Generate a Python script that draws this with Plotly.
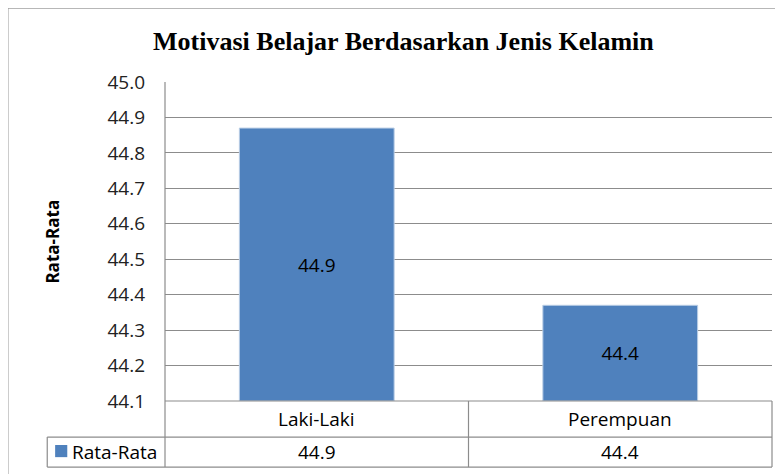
import plotly.graph_objects as go

# data
categories = ["Laki-Laki", "Perempuan"]
values = [44.87, 44.37]
series_name = "Rata-Rata"
title = "Motivasi Belajar Berdasarkan Jenis Kelamin"
y_min, y_max = 44.1, 45.0

labels = [f"{v:.1f}" for v in values]

bar_color = "#4F81BD"
line_color = "#8C8C8C"
sans = "Open Sans"

fig = go.Figure()
# bars start at the axis floor so the inside label sits mid-bar like Excel
fig.add_trace(go.Bar(
    x=categories, y=[v - y_min for v in values], base=y_min,
    marker=dict(color=bar_color, line=dict(color="#B9CDE5", width=1)),
    text=labels, textposition="inside", insidetextanchor="middle",
    textfont=dict(family=sans, size=19, color="black"),
    showlegend=False,
))

# page body adds 8px, so margins are shifted to compensate
fig.update_layout(
    width=783, height=474,
    margin=dict(l=157, r=19, t=74, b=81, autoexpand=False),
    paper_bgcolor="white", plot_bgcolor="white",
    bargap=0.49,
    title=dict(text=f"<b>{title}</b>", x=0.505, xanchor="center",
               y=1 - 33 / 474, yanchor="middle", yref="container",
               font=dict(family="Liberation Serif", size=26, color="black")),
    font=dict(family=sans, size=19, color="black"),
)
fig.update_yaxes(
    range=[y_min, y_max], dtick=0.1, tick0=y_min, tickformat=".1f",
    showgrid=True, gridcolor=line_color, gridwidth=1,
    showline=False, zeroline=False, ticks="", automargin=False,
    ticklabelstandoff=19,
    tickfont=dict(family=sans, size=19, color="#222"),
)
fig.update_xaxes(showticklabels=False, showline=False, showgrid=False,
                 zeroline=False, automargin=False)

# y axis title
fig.add_annotation(x=-0.186, xref="paper", y=0.5, yref="paper", text="<b>Rata-Rata</b>",
                   textangle=-90, showarrow=False, xanchor="center", yanchor="middle",
                   font=dict(family=sans, size=17, color="black"))

# table / frame lines (paper coords)
def hline(y, x0, x1):
    fig.add_shape(type="line", xref="paper", yref="paper", x0=x0, x1=x1, y0=y, y1=y,
                  line=dict(color=line_color, width=1.2))

def vline(x, y0, y1):
    fig.add_shape(type="line", xref="paper", yref="paper", x0=x, x1=x, y0=y0, y1=y1,
                  line=dict(color=line_color, width=1.2))

row1 = -0.113
row2 = -0.207
left = -0.194
hline(0, 0, 1)
hline(row1, left, 1)
hline(row2, left, 1)
vline(0, row2, 1)
vline(0.5, row2, 0)
vline(1, row2, 0)
vline(left, row2, row1)

# outer chart border
fig.add_shape(type="rect", xref="paper", yref="paper", x0=-0.259, x1=1.2, y0=-0.5, y1=1.232,
              line=dict(color="#A0A0A0", width=1.5), fillcolor="rgba(0,0,0,0)", layer="below")

# category row and value row
for cat, lab in zip(categories, labels):
    fig.add_annotation(x=cat, xref="x", y=row1 / 2, yref="paper", text=cat, showarrow=False,
                       font=dict(family=sans, size=19, color="black"), yanchor="middle")
    fig.add_annotation(x=cat, xref="x", y=(row1 + row2) / 2, yref="paper", text=lab, showarrow=False,
                       font=dict(family=sans, size=19, color="black"), yanchor="middle")

# legend key in table
fig.add_shape(type="rect", xref="paper", yref="paper", x0=-0.181, x1=-0.161, y0=-0.176, y1=-0.138,
              line=dict(width=0), fillcolor=bar_color)
fig.add_annotation(x=-0.156, xref="paper", y=(row1 + row2) / 2, yref="paper", text=series_name,
                   showarrow=False, xanchor="left", yanchor="middle",
                   font=dict(family=sans, size=19, color="black"))

fig.write_html("out.html")
